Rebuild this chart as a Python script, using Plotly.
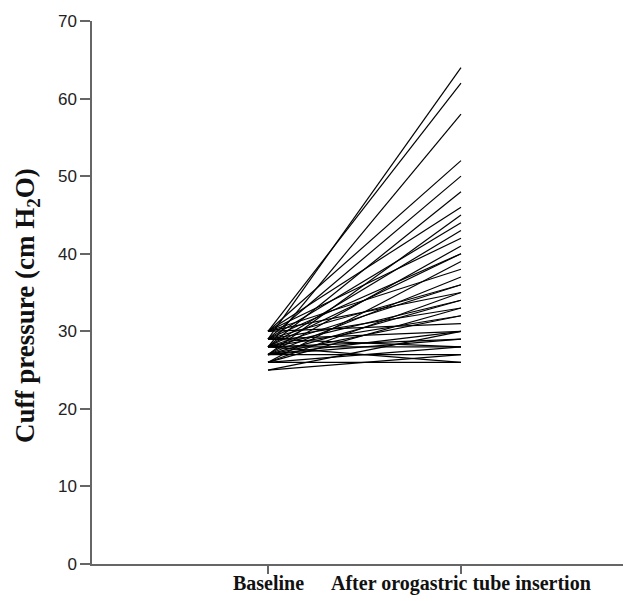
import plotly.graph_objects as go

categories = ["Baseline", "After orogastric tube insertion"]
baseline = [29, 30, 28, 30, 29, 28, 30, 27, 29, 28, 30, 27, 29, 28, 26, 30, 27, 29, 28, 26,
            30, 27, 28, 29, 26, 28, 27, 30, 29, 25, 28, 27, 29, 26, 28, 27, 25, 26, 28, 27]
after = [64, 62, 58, 52, 50, 48, 46, 45, 44, 43, 42, 41, 40, 40, 39, 38, 37, 36, 36, 35,
         35, 34, 34, 33, 33, 32, 32, 31, 30, 30, 29, 29, 28, 28, 28, 27, 27, 26, 26, 30]
y_ticks = [0, 10, 20, 30, 40, 50, 60, 70]

fig = go.Figure()
for b, a in zip(baseline, after):
    fig.add_trace(go.Scatter(x=[0, 1], y=[b, a], mode="lines",
                             line=dict(color="black", width=1.2), showlegend=False,
                             hoverinfo="skip"))

annotations = [dict(text="<b>Cuff pressure (cm H<sub>2</sub>O)</b>", textangle=-90,
                    xref="paper", yref="paper", x=-0.1206, y=0.477,
                    xanchor="center", yanchor="middle", showarrow=False,
                    font=dict(family="Liberation Serif", size=27, color="#111"))]
for i, c in enumerate(categories):
    annotations.append(dict(text=f"<b>{c}</b>", xref="x", yref="paper", x=i, y=-0.035,
                            xanchor="center", yanchor="middle", showarrow=False,
                            font=dict(family="Liberation Serif", size=20, color="#111")))

fig.update_layout(
    width=623, height=593,
    margin=dict(l=84, r=0, t=13, b=37),
    plot_bgcolor="white", paper_bgcolor="white",
    xaxis=dict(range=[-0.912, 1.881], tickvals=[0, 1], showticklabels=False,
               showline=True, linecolor="#666", linewidth=1.5, ticks="outside", ticklen=8,
               tickcolor="#666", tickwidth=1.5, showgrid=False, zeroline=False),
    yaxis=dict(range=[0, 70], tickvals=y_ticks, showline=True, linecolor="#666", linewidth=1.5,
               ticks="outside", ticklen=10, tickcolor="#666", tickwidth=1.5, showgrid=False,
               zeroline=False, tickfont=dict(family="Liberation Sans", size=17, color="#222")),
    annotations=annotations,
)
fig.write_html("out.html")
